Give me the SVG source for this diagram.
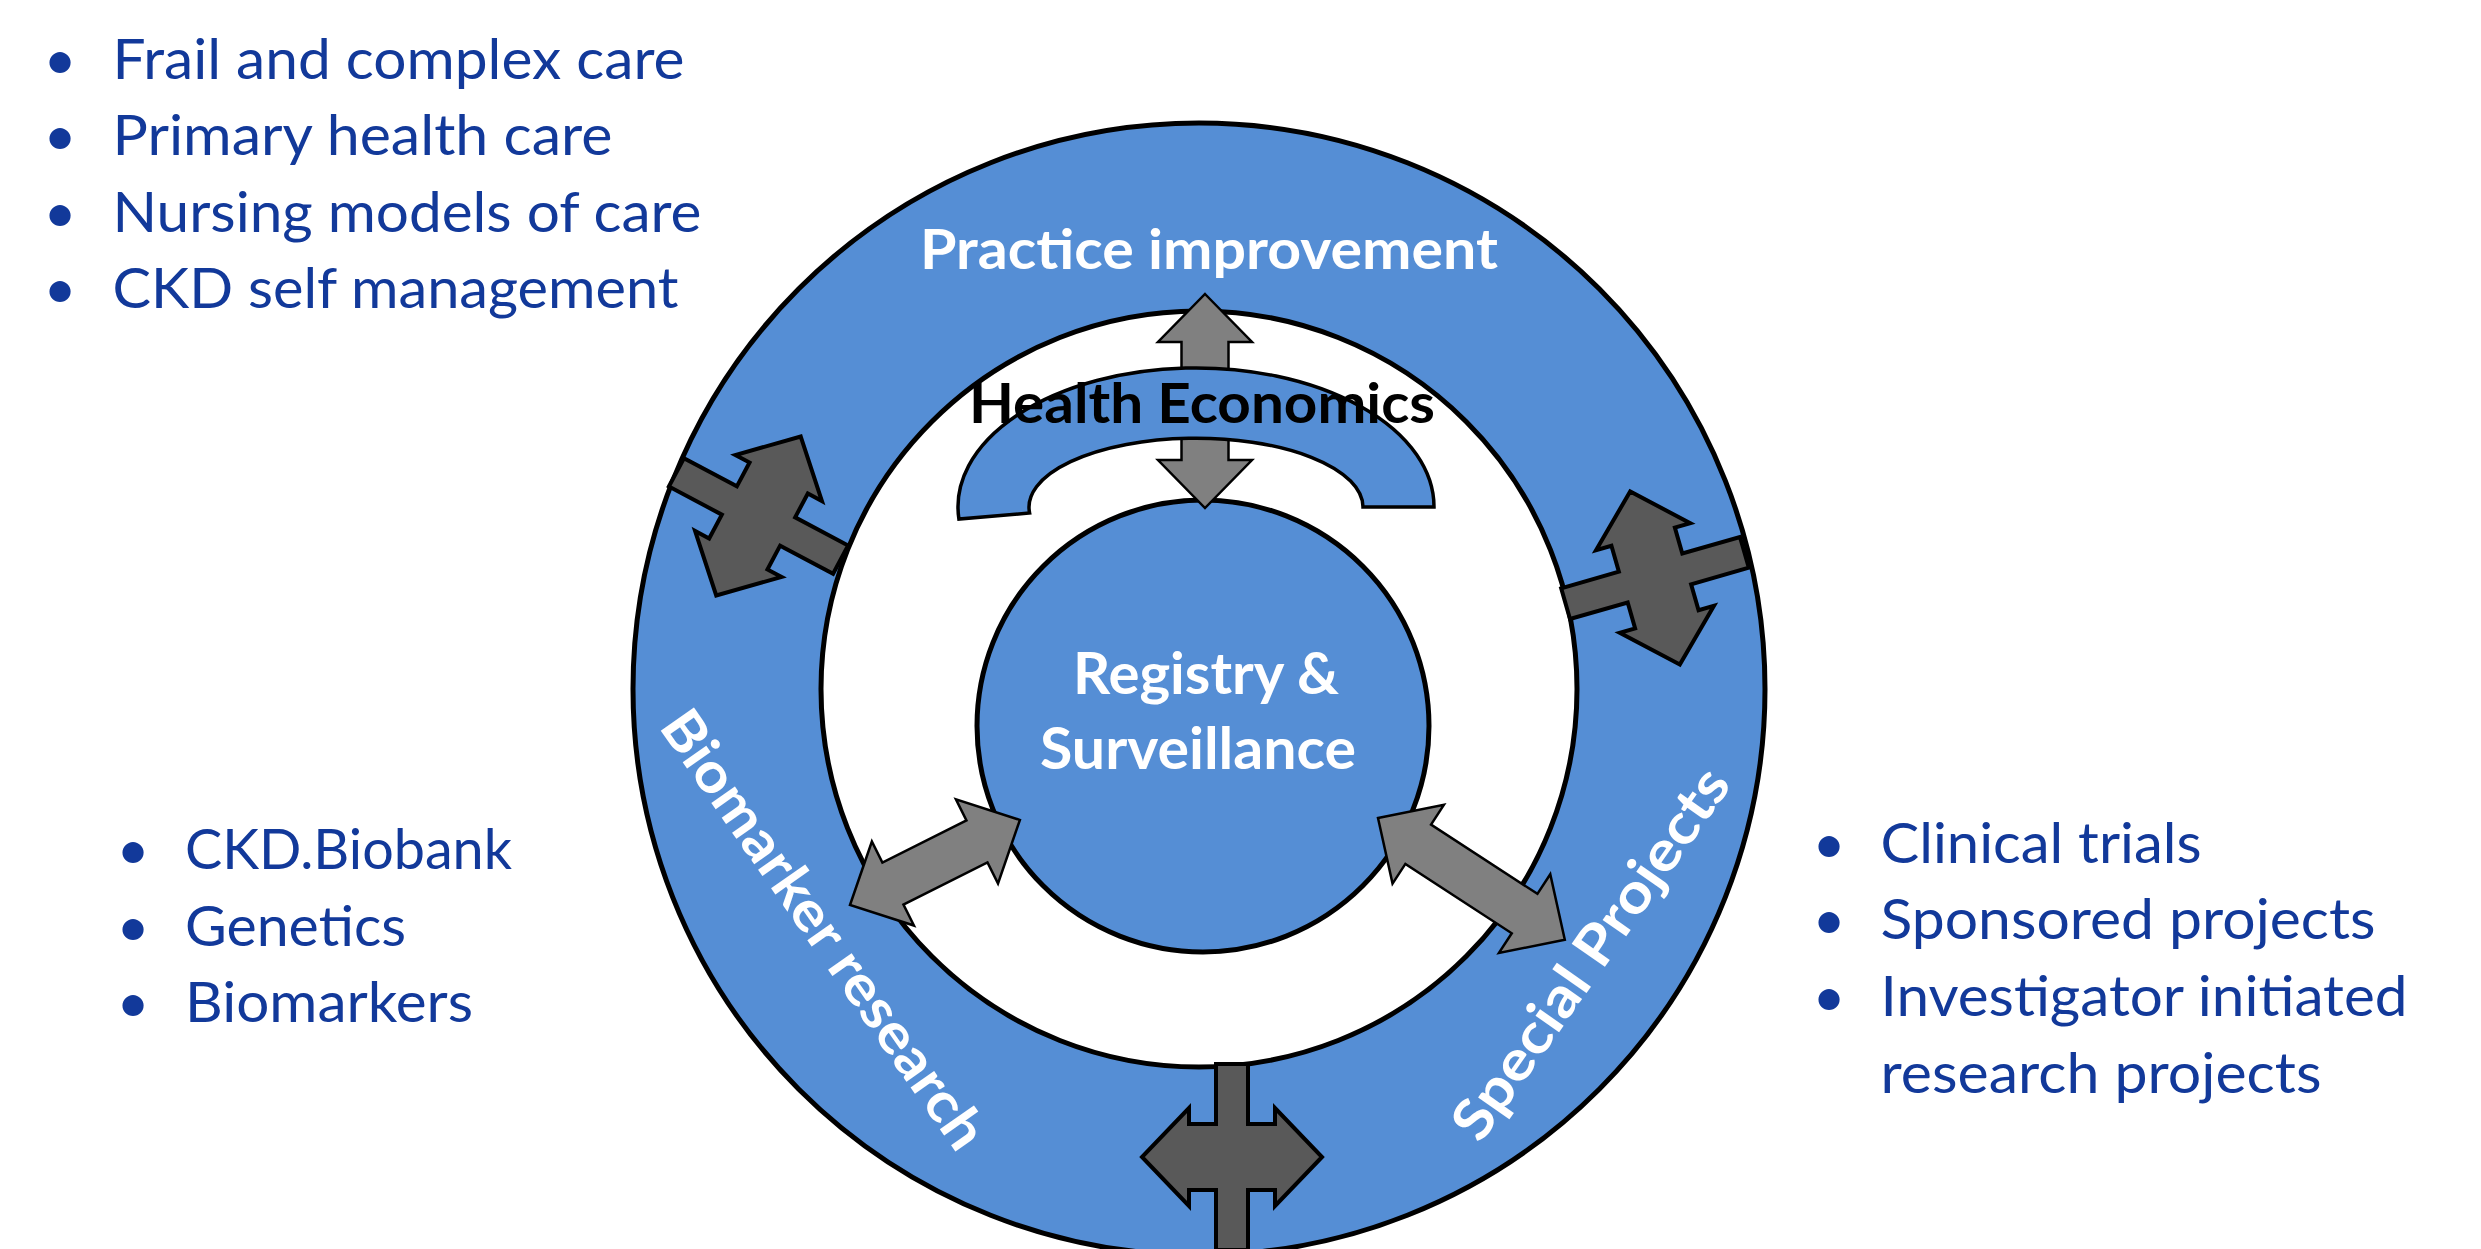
<svg xmlns="http://www.w3.org/2000/svg" xmlns:xlink="http://www.w3.org/1999/xlink" width="2481" height="1249" viewBox="0 0 2481 1249">
<style>
  .blue { fill: #558ED5; stroke: #000; stroke-width: 5; }
  .white { fill: #ffffff; stroke: #000; stroke-width: 5; }
  .dark { fill: #595959; stroke: #000; stroke-width: 4; stroke-linejoin: miter; }
  .grey { fill: #808080; stroke: #000; stroke-width: 2.5; stroke-linejoin: miter; }
  .lbl { font-family: Lato, "Liberation Sans", sans-serif; font-weight: bold; font-size: 56px; fill: #ffffff; }
  .he { font-family: Lato, "Liberation Sans", sans-serif; font-weight: bold; font-size: 56px; fill: #000000; }
  .bul { font-family: Lato, "Liberation Sans", sans-serif; font-size: 57px; fill: #12399A; }
</style>
<defs>
  <path id="cross" d="M90,0 L43,49 L43,33 L16,33 L16,93 L-16,93 L-16,33 L-43,33 L-43,49 L-90,0 L-43,-49 L-43,-33 L-16,-33 L-16,-93 L16,-93 L16,-33 L43,-33 L43,-49 Z"/>
</defs>
<rect x="0" y="0" width="2481" height="1249" fill="#ffffff"/>

<g id="node-outer-ring">
  <circle class="blue" cx="1199" cy="689" r="566"/>
  <circle class="white" cx="1199" cy="689" r="378"/>
</g>

<g id="node-registry">
  <circle class="blue" cx="1203" cy="726" r="226"/>
</g>

<g id="connectors">
  <use xlink:href="#cross" class="dark" transform="translate(1232,1157)"/>
  <use xlink:href="#cross" class="dark" transform="translate(758.5,516) rotate(-62)"/>
  <use xlink:href="#cross" class="dark" transform="translate(1655,578) rotate(74)"/>
  <path class="grey" transform="translate(1205,294) rotate(90)" d="M0,0 L48,-47 L48,-23.5 L166,-23.5 L166,-47 L214,0 L166,47 L166,23.5 L48,23.5 L48,47 Z"/>
  <path class="grey" transform="translate(850,905) rotate(-26.6)" d="M0,0 L48,-47 L48,-23.5 L142,-23.5 L142,-47 L190,0 L142,47 L142,23.5 L48,23.5 L48,47 Z"/>
  <path class="grey" transform="translate(1378,818) rotate(33.1)" d="M0,0 L48,-47 L48,-23.5 L175,-23.5 L175,-47 L223,0 L175,47 L175,23.5 L48,23.5 L48,47 Z"/>
</g>

<g id="node-health-economics">
  <path d="M958.9,519 A238,139 0 1 1 1434,507 L1363,507 A167,69 0 1 0 1029.6,513 Z" fill="#558ED5" stroke="#000" stroke-width="3.5"/>
  <text class="he" x="969" y="423" textLength="466" lengthAdjust="spacingAndGlyphs">Health Economics</text>
</g>

<g id="node-ring-labels">
  <text class="lbl" x="920" y="269" textLength="578" lengthAdjust="spacingAndGlyphs">Practice improvement</text>
  <text class="lbl" transform="translate(824,929) rotate(55)" x="0" y="20" text-anchor="middle" textLength="522" lengthAdjust="spacingAndGlyphs">Biomarker research</text>
  <text class="lbl" transform="translate(1590,953) rotate(-55)" x="0" y="20" text-anchor="middle" textLength="440" lengthAdjust="spacingAndGlyphs">Special Projects</text>
</g>

<g id="node-registry-label">
  <text class="lbl" style="font-size:57px" x="1073" y="694" textLength="266" lengthAdjust="spacingAndGlyphs">Registry &amp;</text>
  <text class="lbl" style="font-size:57px" x="1040" y="769" textLength="316" lengthAdjust="spacingAndGlyphs">Surveillance</text>
</g>

<g id="node-practice-list">
  <text class="bul" x="60" y="79" text-anchor="middle">•</text>
  <text class="bul" x="112.5" y="79" textLength="572" lengthAdjust="spacingAndGlyphs">Frail and complex care</text>
  <text class="bul" x="60" y="155" text-anchor="middle">•</text>
  <text class="bul" x="112.5" y="155" textLength="500" lengthAdjust="spacingAndGlyphs">Primary health care</text>
  <text class="bul" x="60" y="232" text-anchor="middle">•</text>
  <text class="bul" x="112.5" y="232" textLength="589" lengthAdjust="spacingAndGlyphs">Nursing models of care</text>
  <text class="bul" x="60" y="308" text-anchor="middle">•</text>
  <text class="bul" x="112.5" y="308" textLength="566" lengthAdjust="spacingAndGlyphs">CKD self management</text>
</g>

<g id="node-biomarker-list">
  <text class="bul" x="133" y="869" text-anchor="middle">•</text>
  <text class="bul" x="185" y="869" textLength="327" lengthAdjust="spacingAndGlyphs">CKD.Biobank</text>
  <text class="bul" x="133" y="945.5" text-anchor="middle">•</text>
  <text class="bul" x="185" y="945.5" textLength="221" lengthAdjust="spacingAndGlyphs">Genetics</text>
  <text class="bul" x="133" y="1022" text-anchor="middle">•</text>
  <text class="bul" x="185" y="1022" textLength="288" lengthAdjust="spacingAndGlyphs">Biomarkers</text>
</g>

<g id="node-special-list">
  <text class="bul" x="1829" y="863" text-anchor="middle">•</text>
  <text class="bul" x="1880.5" y="863" textLength="321" lengthAdjust="spacingAndGlyphs">Clinical trials</text>
  <text class="bul" x="1829" y="939" text-anchor="middle">•</text>
  <text class="bul" x="1880.5" y="939" textLength="495" lengthAdjust="spacingAndGlyphs">Sponsored projects</text>
  <text class="bul" x="1829" y="1016" text-anchor="middle">•</text>
  <text class="bul" x="1880.5" y="1016" textLength="527" lengthAdjust="spacingAndGlyphs">Investigator initiated</text>
  <text class="bul" x="1880.5" y="1093" textLength="441" lengthAdjust="spacingAndGlyphs">research projects</text>
</g>
</svg>
